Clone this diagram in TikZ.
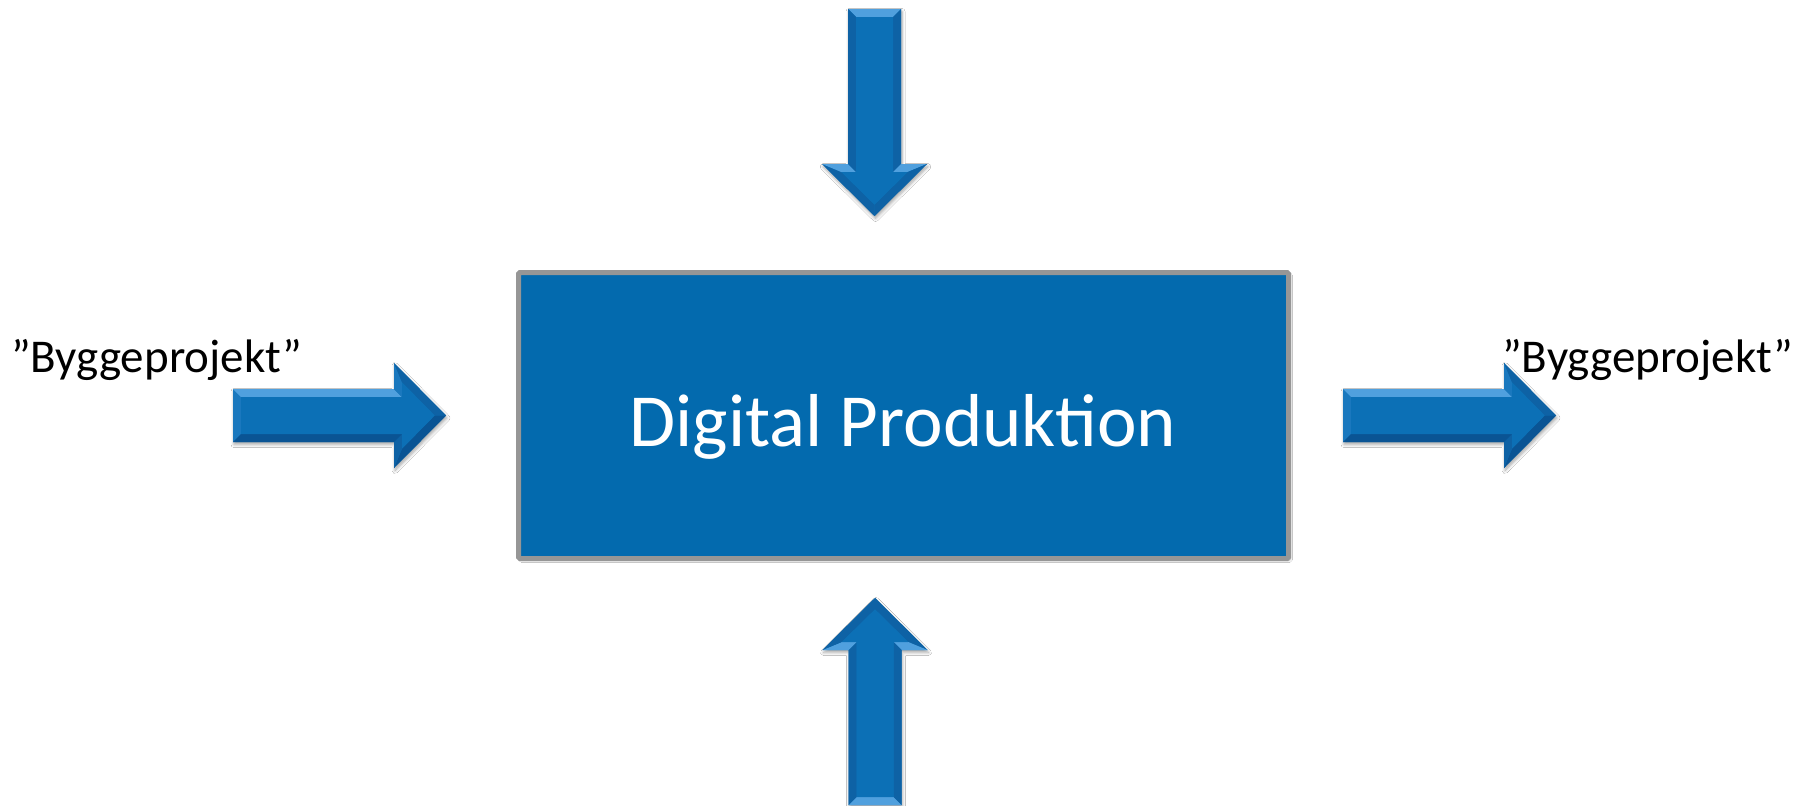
\documentclass[tikz,border=0pt]{standalone}
\usepackage{fontspec}
\setmainfont{Carlito}
\usetikzlibrary{shadows.blur}
\definecolor{boxblue}{RGB}{3,106,174}
\definecolor{boxgray}{RGB}{150,150,150}
\definecolor{armain}{RGB}{12,112,182}
\definecolor{arlight}{RGB}{80,160,222}
\definecolor{armid}{RGB}{26,120,190}
\definecolor{ardark}{RGB}{14,98,165}
\definecolor{ardarker}{RGB}{10,84,148}
\tikzset{
  bev center/.style={fill=armain},
  hbev/.style={
    bev tail/.style={fill=armid},
    bev side1/.style={fill=arlight},
    bev side2/.style={fill=ardarker},
    bev sh1/.style={fill=armid},
    bev sh2/.style={fill=ardark},
    bev d1/.style={fill=ardark},
    bev d2/.style={fill=ardarker}},
  vbev/.style={
    bev tail/.style={fill=arlight},
    bev side1/.style={fill=ardark},
    bev side2/.style={fill=ardark},
    bev sh1/.style={fill=arlight},
    bev sh2/.style={fill=arlight},
    bev d1/.style={fill=ardark},
    bev d2/.style={fill=ardark}},
  arrowbody/.style={fill=armain, blur shadow={shadow xshift=1pt, shadow yshift=-2.5pt, shadow blur steps=6, shadow blur radius=3pt, shadow opacity=35}},
  mainbox/.style={draw=boxgray, line width=5pt, fill=boxblue, rounded corners=1.5pt,
    blur shadow={shadow xshift=2pt, shadow yshift=-2pt, shadow blur steps=5, shadow blur radius=2pt, shadow opacity=30}},
  sidelabel/.style={font=\fontsize{47}{56}\selectfont, text=black, inner sep=0pt, anchor=base west},
  boxlabel/.style={font=\fontsize{75}{90}\selectfont, text=white, inner sep=0pt, anchor=base}
}
\newcommand\bevelarrow[3]{%
  \begin{scope}[shift={#1}, rotate=#2]
    \pgfmathsetmacro\arL{#3}
    \pgfmathsetmacro\arS{#3-52}
    \pgfmathsetmacro\arSi{#3-44}
    \pgfmathsetmacro\arTi{#3-11.3}
    \path[arrowbody] (0,-26.5) -- (\arS,-26.5) -- (\arS,-52.5) -- (\arL,0) -- (\arS,52.5) -- (\arS,26.5) -- (0,26.5) -- cycle;
    \fill[bev tail] (0,-26.5) -- (0,26.5) -- (8,18.5) -- (8,-18.5) -- cycle;
    \fill[bev side1] (0,-26.5) -- (\arS,-26.5) -- (\arSi,-18.5) -- (8,-18.5) -- cycle;
    \fill[bev sh1] (\arS,-26.5) -- (\arS,-52.5) -- (\arSi,-33.2) -- (\arSi,-18.5) -- cycle;
    \fill[bev d1] (\arS,-52.5) -- (\arL,0) -- (\arTi,0) -- (\arSi,-33.2) -- cycle;
    \fill[bev d2] (\arL,0) -- (\arS,52.5) -- (\arSi,33.2) -- (\arTi,0) -- cycle;
    \fill[bev sh2] (\arS,52.5) -- (\arS,26.5) -- (\arSi,18.5) -- (\arSi,33.2) -- cycle;
    \fill[bev side2] (\arS,26.5) -- (0,26.5) -- (8,18.5) -- (\arSi,18.5) -- cycle;
    \fill[bev center] (8,-18.5) -- (\arSi,-18.5) -- (\arSi,-33.2) -- (\arTi,0) -- (\arSi,33.2) -- (\arSi,18.5) -- (8,18.5) -- cycle;
  \end{scope}}
\begin{document}
\begin{tikzpicture}[x=1pt, y=-1pt]
  \fill[white] (0,0) rectangle (1816,806);
  \useasboundingbox (0,0) rectangle (1816,806);
  % central box
  \path[mainbox] (518.5,272.5) rectangle (1288.5,558.5);
  \coordinate (boxc) at (903,446);
  \node[boxlabel] (boxtext) at (boxc) {Digital Produktion};
  % side labels
  \node[sidelabel] (inlabel) at (11,372) {”Byggeprojekt”};
  \node[sidelabel] (outlabel) at (1502,372) {”Byggeprojekt”};
  % arrows
  \begin{scope}[hbev]
    \bevelarrow{(233,415.5)}{0}{213}
    \bevelarrow{(1343,415.5)}{0}{213}
  \end{scope}
  \begin{scope}[vbev]
    \bevelarrow{(874.5,9)}{-90}{207}
    \bevelarrow{(875,805)}{90}{207}
  \end{scope}
\end{tikzpicture}
\end{document}
